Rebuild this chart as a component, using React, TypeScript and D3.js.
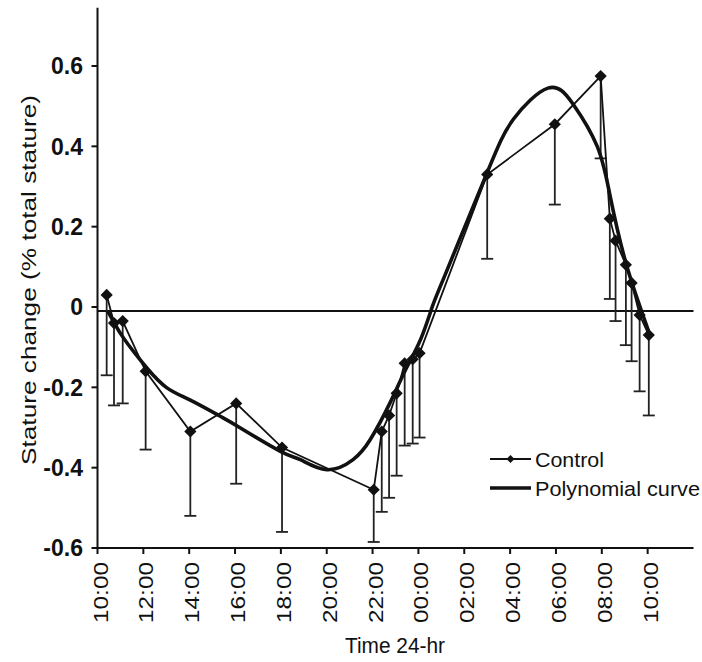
import React from "react";
import * as d3 from "d3";

// Hours elapsed since 10:00 on the first day
const controlHours = [0.4, 0.72, 1.1, 2.1, 4.05, 6.05, 8.05, 12.05, 12.4, 12.72, 13.05, 13.4, 13.75, 14.05, 17.0, 19.95, 21.95, 22.35, 22.6, 23.05, 23.3, 23.65, 24.05];
// Mean stature change (% total stature)
const controlValues = [0.03, -0.04, -0.035, -0.16, -0.31, -0.24, -0.35, -0.455, -0.31, -0.27, -0.215, -0.14, -0.13, -0.115, 0.33, 0.455, 0.575, 0.22, 0.165, 0.105, 0.06, -0.02, -0.07];
// Lower end of each error bar
const controlLower = [-0.17, -0.245, -0.24, -0.355, -0.52, -0.44, -0.56, -0.585, -0.51, -0.475, -0.42, -0.345, -0.34, -0.325, 0.12, 0.255, 0.37, 0.02, -0.035, -0.095, -0.135, -0.21, -0.27];

// Fitted polynomial trend, sampled along the day
const polyHours = [0.45, 1.05, 1.7, 2.2, 3.0, 4.05, 5.35, 6.2, 8.0, 8.85, 10.0, 11.15, 11.9, 12.75, 13.45, 14.1, 14.6, 15.2, 17.0, 18.15, 19.65, 20.75, 21.8, 22.35, 23.0, 23.7, 24.1];
const polyValues = [-0.01, -0.07, -0.12, -0.155, -0.2, -0.232, -0.272, -0.3, -0.36, -0.38, -0.405, -0.38, -0.33, -0.24, -0.155, -0.08, 0.0, 0.085, 0.335, 0.468, 0.545, 0.505, 0.4, 0.28, 0.12, -0.005, -0.07];

const xTickHours = [0, 2, 4, 6, 8, 10, 12, 14, 16, 18, 20, 22, 24];
const xTickLabels = ["10:00", "12:00", "14:00", "16:00", "18:00", "20:00", "22:00", "00:00", "02:00", "04:00", "06:00", "08:00", "10:00"];
const yTicks = [-0.6, -0.4, -0.2, 0, 0.2, 0.4, 0.6];
const yTickLabels = ["-0.6", "-0.4", "-0.2", "0", "0.2", "0.4", "0.6"];

const baselineValue = -0.01;

const W = 702;
const H = 662;
const FONT = "'Liberation Sans', Arial, sans-serif";

export default function App() {
  const x = d3.scaleLinear().domain([0, 26]).range([97.5, 693.5]);
  const y = d3.scaleLinear().domain([-0.6, 0.6]).range([548, 66]);
  const yTop = y(0.745);

  const controlLine = d3
    .line<number>()
    .x((_, i) => x(controlHours[i]))
    .y((v) => y(v));

  const polyLine = d3
    .line<number>()
    .x((_, i) => x(polyHours[i]))
    .y((v) => y(v))
    .curve(d3.curveNatural);

  const diamond = d3.symbol(d3.symbolDiamond2, 95)() || "";
  const smallDiamond = d3.symbol(d3.symbolDiamond2, 40)() || "";
  const ink = "#111";

  return (
    <svg
      width={W}
      height={H}
      style={{ position: "absolute", left: 0, top: 0, background: "#fff" }}
      fontFamily={FONT}
    >
      <rect width={W} height={H} fill="#fff" />

      {/* zero reference line */}
      <line x1={x(0)} x2={x(26)} y1={y(baselineValue)} y2={y(baselineValue)} stroke={ink} strokeWidth={2} />

      {/* error bars (lower half only) */}
      <g stroke="#222" strokeWidth={1.8}>
        {controlValues.map((v, i) => {
          const cx = x(controlHours[i]);
          return (
            <g key={i}>
              <line x1={cx} x2={cx} y1={y(v)} y2={y(controlLower[i])} />
              <line x1={cx - 6} x2={cx + 6} y1={y(controlLower[i])} y2={y(controlLower[i])} />
            </g>
          );
        })}
      </g>

      {/* control series */}
      <path d={controlLine(controlValues) || ""} fill="none" stroke={ink} strokeWidth={1.8} />
      {controlValues.map((v, i) => (
        <path key={i} d={diamond} transform={`translate(${x(controlHours[i])},${y(v)})`} fill={ink} />
      ))}

      {/* polynomial curve */}
      <path d={polyLine(polyValues) || ""} fill="none" stroke={ink} strokeWidth={3.6} strokeLinejoin="round" />

      {/* axes */}
      <line x1={x(0)} x2={x(0)} y1={yTop} y2={y(-0.6)} stroke={ink} strokeWidth={2} />
      <line x1={x(0)} x2={x(26)} y1={y(-0.6)} y2={y(-0.6)} stroke={ink} strokeWidth={2} />

      {yTicks.map((t, i) => (
        <g key={t}>
          <line x1={x(0) - 6} x2={x(0)} y1={y(t)} y2={y(t)} stroke={ink} strokeWidth={2} />
          <text
            x={83}
            y={y(t)}
            dy="0.36em"
            textAnchor="end"
            fontSize={23}
            fontWeight="bold"
            fill={ink}
          >
            {yTickLabels[i]}
          </text>
        </g>
      ))}

      {xTickHours.map((h, i) => (
        <g key={i}>
          <line x1={x(h)} x2={x(h)} y1={y(-0.6)} y2={y(-0.6) + 6} stroke={ink} strokeWidth={2} />
          <text
            transform={`translate(${x(h) + 10},${y(-0.6) + 14}) rotate(-90)`}
            textAnchor="end"
            fontSize={20}
            fill={ink}
            textLength={61}
            lengthAdjust="spacingAndGlyphs"
          >
            {xTickLabels[i]}
          </text>
        </g>
      ))}

      {/* axis titles */}
      <text
        transform={`translate(36,280) rotate(-90)`}
        textAnchor="middle"
        fontSize={21}
        fill={ink}
        textLength={370}
        lengthAdjust="spacingAndGlyphs"
      >
        Stature change (% total stature)
      </text>
      <text x={395} y={653} textAnchor="middle" fontSize={22} fill={ink} textLength={100} lengthAdjust="spacingAndGlyphs">
        Time 24-hr
      </text>

      {/* legend */}
      <g>
        <line x1={490} x2={531} y1={459} y2={459} stroke={ink} strokeWidth={1.8} />
        <path d={smallDiamond} transform="translate(510.5,459)" fill={ink} />
        <text x={535} y={467} fontSize={21} fill={ink} textLength={69} lengthAdjust="spacingAndGlyphs">
          Control
        </text>
        <line x1={490} x2={531} y1={488} y2={488} stroke={ink} strokeWidth={3.6} />
        <text x={535} y={496} fontSize={21} fill={ink} textLength={165} lengthAdjust="spacingAndGlyphs">
          Polynomial curve
        </text>
      </g>
    </svg>
  );
}
